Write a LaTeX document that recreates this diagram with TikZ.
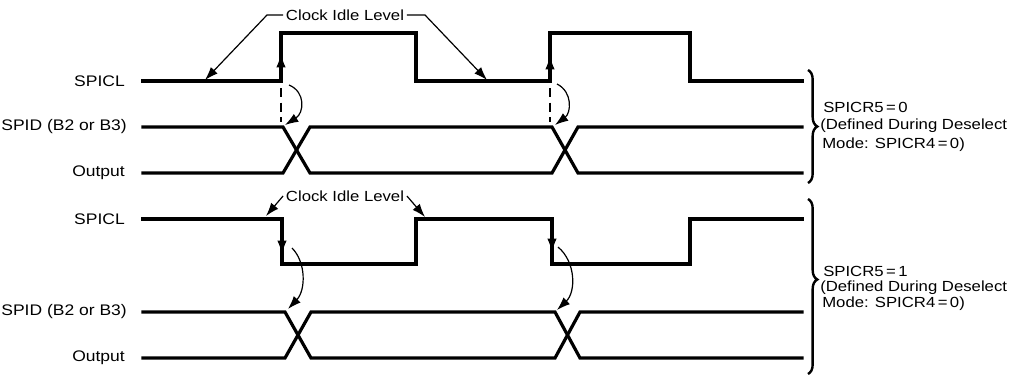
\documentclass[tikz,border=0pt]{standalone}
\usepackage{fontspec}
\setmainfont[FakeStretch=1.14]{Liberation Sans}
\usetikzlibrary{arrows.meta,decorations.pathreplacing}
\tikzset{
	sig/.style={line width=2.4pt,line join=miter,line cap=rect},
	pointer/.style={line width=0.9pt,-{Latex[length=10pt,width=7pt]}},
	guide/.style={line width=1pt,dash pattern=on 7pt off 4pt},
	lbl/.style={anchor=east,font=\fontsize{11.5}{13}\selectfont,inner sep=0pt},
	note/.style={anchor=west,font=\fontsize{11}{13}\selectfont,inner sep=0pt},
	brc/.style={line width=1.8pt,decorate,decoration={brace,amplitude=7pt}}
}
\begin{document}
\begin{tikzpicture}[x=0.75pt,y=-0.75pt]
			\useasboundingbox (0,0) rectangle (1010,376);
			\node[lbl] (clkA) at (125,81) {SPICL};
			\node[lbl] (datA) at (127,127) {SPID (B2 or B3)};
			\node[lbl] (outA) at (125,173) {Output};
			\draw[sig] (143,81) -- (281,81) -- (281,33) -- (416,33) -- (416,81) -- (550,81) -- (550,33) -- (690,33) -- (690,81) -- (802,81);
			\draw[sig] (143,127) -- (283,127) -- (310,173) -- (552,173) -- (578,127) -- (802,127);
			\draw[sig] (143,173) -- (283,173) -- (310,127) -- (552,127) -- (578,173) -- (802,173);
			\node[font=\fontsize{11}{13}\selectfont,inner sep=2pt] (idleA) at (345,15) {Clock Idle Level};
			\coordinate (tipA) at (205,80);
			\coordinate (tipB) at (487,80);
			\draw[pointer] (idleA.west) -- (267,15) -- (tipA);
			\draw[pointer] (idleA.east) -- (425,15) -- (tipB);
			\draw[pointer] (281,81) -- (281,54);
			\draw[pointer] (550,81) -- (550,56);
			\draw[guide] (281,88) -- (281,122);
			\draw[guide] (550,88) -- (550,122);
			\draw[pointer] (289,85) .. controls (306,92) and (304,113) .. (285,125);
			\draw[pointer] (557,84) .. controls (573,92) and (571,113) .. (555,125);
			\draw[brc] (808,70) -- (808,183);
			\node[note] (modeA1) at (823,107) {SPICR5\,=\,0};
			\node[note] (modeA2) at (820,126) {(Defined During Deselect};
			\node[note] (modeA3) at (822,145) {Mode: SPICR4\,=\,0)};
			\node[lbl] (clkB) at (125,219) {SPICL};
			\node[lbl] (datB) at (127,312) {SPID (B2 or B3)};
			\node[lbl] (outB) at (125,358) {Output};
			\draw[sig] (143,219) -- (282,219) -- (282,264) -- (416,264) -- (416,219) -- (552,219) -- (552,264) -- (690,264) -- (690,219) -- (802,219);
			\draw[sig] (143,312) -- (285,312) -- (311,358) -- (555,358) -- (580,312) -- (802,312);
			\draw[sig] (143,358) -- (285,358) -- (311,312) -- (555,312) -- (580,358) -- (802,358);
			\node[font=\fontsize{11}{13}\selectfont,inner sep=2pt] (idleB) at (345,196) {Clock Idle Level};
			\coordinate (tipC) at (266,216);
			\coordinate (tipD) at (425,217);
			\draw[pointer] (idleB.west) -- (tipC);
			\draw[pointer] (idleB.east) -- (tipD);
			\draw[pointer] (282,224) -- (282,254);
			\draw[pointer] (552,224) -- (552,252);
			\draw[pointer] (292,248) .. controls (306,262) and (306,290) .. (288,309);
			\draw[pointer] (558,247) .. controls (576,262) and (576,292) .. (557,310);
			\draw[brc] (808,199) -- (808,374) [decoration={aspect=0.46}];
			\node[note] (modeB1) at (823,271) {SPICR5\,=\,1};
			\node[note] (modeB2) at (820,288) {(Defined During Deselect};
			\node[note] (modeB3) at (822,304) {Mode: SPICR4\,=\,0)};
			\end{tikzpicture}
\end{document}
